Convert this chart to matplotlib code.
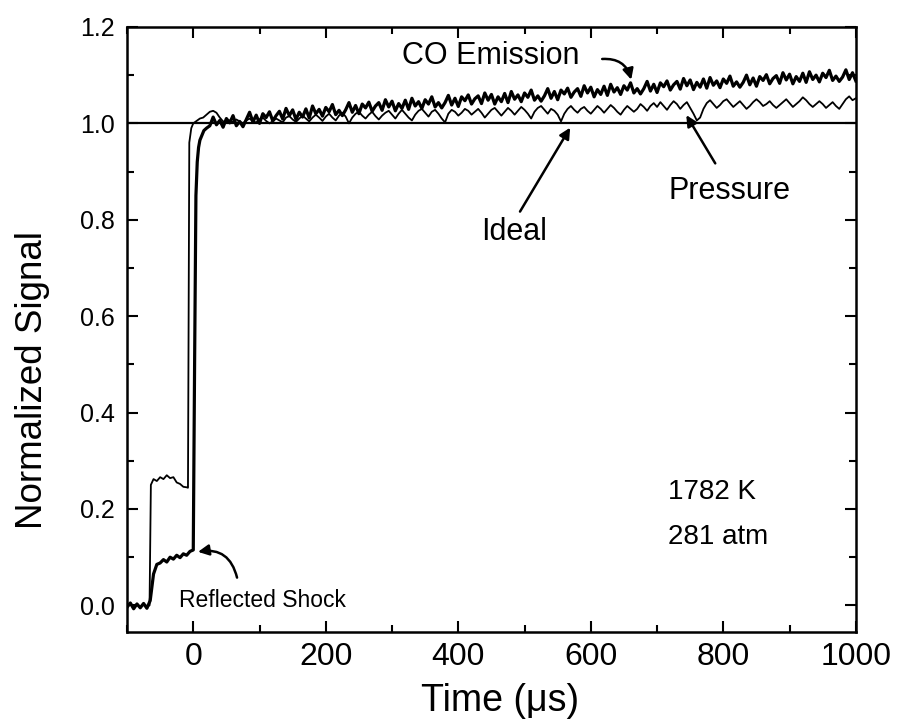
import matplotlib
matplotlib.use("Agg")
import matplotlib.pyplot as plt
import numpy as np

plt.rcParams['font.family'] = ['Liberation Sans', 'DejaVu Sans']

# ---- CO emission (thick trace) ----
co_t_early = [-100, -95, -90, -85, -80, -75, -70, -65, -60, -55, -50, -45, -40,
              -35, -30, -25, -20, -15, -10, -5, 0, 2, 4, 6, 8, 10, 13, 16, 20, 25]
co_early = [-0.004, 0.005, -0.007, 0.003, -0.005, 0.004, -0.006, 0.01, 0.065,
            0.085, 0.088, 0.095, 0.09, 0.1, 0.096, 0.104, 0.099, 0.107, 0.104,
            0.112, 0.115, 0.5, 0.85, 0.92, 0.95, 0.965, 0.975, 0.985, 0.99, 0.995]
co_t_late = np.arange(30, 1001, 5)
co_late = [
    1.013, 0.997, 1.006, 0.992, 1.010, 1.001, 1.016, 0.995, 1.004, 0.993,
    1.008, 1.023, 1.003, 1.017, 1.000, 1.020, 1.012, 1.024, 1.005, 1.016,
    1.025, 1.009, 1.031, 1.016, 1.028, 1.008, 1.023, 1.013, 1.030, 1.011,
    1.036, 1.020, 1.029, 1.015, 1.033, 1.024, 1.039, 1.018, 1.027, 1.016,
    1.028, 1.043, 1.023, 1.037, 1.020, 1.040, 1.032, 1.044, 1.025, 1.036,
    1.043, 1.027, 1.049, 1.034, 1.046, 1.026, 1.041, 1.031, 1.048, 1.029,
    1.052, 1.036, 1.045, 1.031, 1.049, 1.040, 1.055, 1.034, 1.043, 1.032,
    1.043, 1.058, 1.038, 1.052, 1.035, 1.055, 1.047, 1.059, 1.040, 1.051,
    1.057, 1.041, 1.063, 1.048, 1.060, 1.040, 1.055, 1.045, 1.062, 1.043,
    1.066, 1.050, 1.059, 1.045, 1.063, 1.054, 1.069, 1.048, 1.057, 1.046,
    1.057, 1.072, 1.052, 1.066, 1.049, 1.069, 1.061, 1.073, 1.054, 1.065,
    1.072, 1.056, 1.078, 1.063, 1.075, 1.055, 1.070, 1.060, 1.077, 1.058,
    1.081, 1.065, 1.074, 1.060, 1.078, 1.069, 1.084, 1.063, 1.072, 1.061,
    1.072, 1.087, 1.067, 1.081, 1.064, 1.084, 1.076, 1.088, 1.069, 1.080,
    1.087, 1.071, 1.093, 1.078, 1.090, 1.070, 1.085, 1.075, 1.092, 1.073,
    1.095, 1.079, 1.088, 1.074, 1.092, 1.083, 1.098, 1.077, 1.086, 1.075,
    1.085, 1.100, 1.080, 1.094, 1.077, 1.097, 1.089, 1.101, 1.082, 1.093,
    1.099, 1.083, 1.105, 1.090, 1.102, 1.082, 1.097, 1.087, 1.104, 1.085,
    1.107, 1.091, 1.100, 1.086, 1.104, 1.095, 1.110, 1.089, 1.098, 1.087,
    1.096, 1.111, 1.091, 1.105, 1.088,
]

# ---- Pressure (thin trace) ----
p_t_early = [-100, -95, -90, -85, -80, -75, -70, -66, -64, -60, -55, -50, -45,
             -40, -35, -30, -25, -20, -15, -10, -8, -6, -3, 0, 5, 10]
p_early = [-0.003, 0.004, -0.005, 0.002, -0.004, 0.003, -0.002, 0.0, 0.25,
           0.262, 0.258, 0.266, 0.262, 0.27, 0.264, 0.266, 0.255, 0.252, 0.246,
           0.245, 0.244, 0.96, 0.99, 1.0, 1.005, 1.01]
p_t_late = np.arange(15, 1001, 5)
p_late = [
    1.012, 1.018, 1.024, 1.026, 1.022, 1.012, 1.004, 1.002, 1.006, 1.003,
    1.008, 1.004, 1.0, 1.006, 1.01, 1.004, 1.002, 1.008, 1.012, 1.005,
    1.0, 1.004, 1.01, 1.006, 1.002, 1.012, 1.015, 1.008, 1.003, 1.01,
    1.016, 1.01, 1.004, 1.012, 1.018, 1.012, 1.005, 1.014, 1.02, 1.012,
    1.006, 1.016, 1.022, 1.014, 1.0, 1.012, 1.02, 1.024, 1.016, 1.01,
    1.018, 1.024, 1.015, 1.008, 1.016, 1.022, 1.026, 1.018, 1.01, 1.02,
    1.028, 1.02, 1.012, 1.006, 1.018, 1.026, 1.03, 1.022, 1.014, 1.024,
    1.028, 1.02, 1.01, 1.002, 1.02, 1.028, 1.024, 1.016, 1.022, 1.03,
    1.026, 1.018, 1.024, 1.03, 1.022, 1.012, 1.02, 1.028, 1.032, 1.024,
    1.016, 1.024, 1.032, 1.026, 1.018, 1.026, 1.034, 1.028, 1.02, 1.01,
    1.024, 1.032, 1.036, 1.028, 1.02, 1.03, 1.026, 1.018, 1.004, 1.02,
    1.03, 1.036, 1.028, 1.022, 1.03, 1.034, 1.026, 1.02, 1.028, 1.036,
    1.03, 1.022, 1.03, 1.038, 1.032, 1.024, 1.018, 1.028, 1.036, 1.03,
    1.024, 1.03, 1.04, 1.034, 1.026, 1.036, 1.042, 1.034, 1.044, 1.036,
    1.028, 1.038, 1.046, 1.04, 1.03, 1.038, 1.044, 1.032, 1.02, 1.006,
    1.012, 1.03, 1.042, 1.048, 1.04, 1.032, 1.038, 1.046, 1.05, 1.042,
    1.034, 1.04, 1.046, 1.038, 1.03, 1.036, 1.044, 1.05, 1.044, 1.036,
    1.04, 1.046, 1.038, 1.032, 1.038, 1.044, 1.05, 1.042, 1.034, 1.04,
    1.046, 1.054, 1.048, 1.04, 1.034, 1.04, 1.046, 1.04, 1.032, 1.038,
    1.044, 1.036, 1.03, 1.04, 1.05, 1.056, 1.048, 1.052,
]

ideal_t = [-100, 1000]
ideal = [1.0, 1.0]

co_t = np.concatenate([co_t_early, co_t_late])
co = np.concatenate([co_early, co_late])
p_t = np.concatenate([p_t_early, p_t_late])
p = np.concatenate([p_early, p_late])

fig = plt.figure(figsize=(8.97, 7.28), dpi=100)
ax = fig.add_axes([0.1416, 0.132, 0.8125, 0.831])

ax.plot(ideal_t, ideal, color='black', lw=1.6)
ax.plot(p_t, p, color='black', lw=1.3)
ax.plot(co_t, co, color='black', lw=2.3)

ax.set_xlim(-100, 1000)
ax.set_ylim(-0.055, 1.2)
ax.set_xticks(np.arange(0, 1001, 200))
ax.set_xticks(np.arange(-100, 1001, 100), minor=True)
ax.set_yticks(np.arange(0, 1.21, 0.2))
ax.set_yticks(np.arange(0, 1.21, 0.1), minor=True)
ax.set_yticklabels(['0.0', '0.2', '0.4', '0.6', '0.8', '1.0', '1.2'])

ax.tick_params(which='both', direction='in', top=True, right=True, width=1.5)
ax.tick_params(which='major', length=8)
ax.tick_params(which='minor', length=5)
ax.tick_params(axis='x', labelsize=23, pad=7)
ax.tick_params(axis='y', labelsize=18, pad=9)
for s in ax.spines.values():
    s.set_linewidth(1.8)

ax.set_xlabel('Time (\u03bcs)', fontsize=27)
ax.xaxis.set_label_coords(0.512, -0.085, transform=ax.transAxes)
ax.set_ylabel('Normalized Signal', fontsize=26.5)
ax.yaxis.set_label_coords(-0.105, 0.417, transform=ax.transAxes)

arrow = dict(arrowstyle='-|>', color='black', lw=1.8, mutation_scale=16)

ax.annotate('', xy=(662, 1.085), xytext=(613, 1.133),
            arrowprops=dict(arrow, connectionstyle='arc3,rad=-0.45'))
ax.text(449, 1.14, 'CO Emission', fontsize=22, ha='center', va='center')

ax.annotate('', xy=(571, 0.996), xytext=(491, 0.812), arrowprops=arrow)
ax.text(484, 0.775, 'Ideal', fontsize=22, ha='center', va='center')

ax.annotate('', xy=(742, 1.022), xytext=(790, 0.912), arrowprops=arrow)
ax.text(810, 0.86, 'Pressure', fontsize=22, ha='center', va='center')

ax.annotate('', xy=(3, 0.11), xytext=(67, 0.052),
            arrowprops=dict(arrow, connectionstyle='arc3,rad=0.5'))
ax.text(104, 0.01, 'Reflected Shock', fontsize=16.5, ha='center', va='center')

ax.text(716, 0.235, '1782 K', fontsize=20, ha='left', va='center')
ax.text(716, 0.142, '281 atm', fontsize=20, ha='left', va='center')

fig.savefig('out.png', dpi=100)
